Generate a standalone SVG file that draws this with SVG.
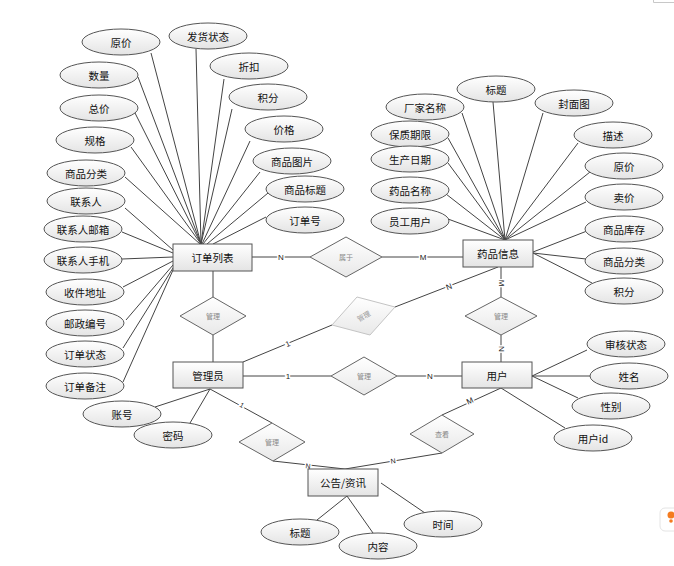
<svg xmlns="http://www.w3.org/2000/svg" width="674" height="566" viewBox="0 0 674 566">
<defs>
<linearGradient id="g" x1="0" y1="0" x2="0" y2="1">
<stop offset="0" stop-color="#ffffff"/>
<stop offset="1" stop-color="#e4e4e4"/>
</linearGradient>
<linearGradient id="gd" x1="0" y1="0" x2="0" y2="1">
<stop offset="0" stop-color="#ffffff"/>
<stop offset="1" stop-color="#e8e8e8"/>
</linearGradient>
</defs>
<style>
text{font-family:"Noto Sans CJK SC","Liberation Sans",sans-serif;text-anchor:middle;dominant-baseline:central}
.at ellipse{fill:url(#g);stroke:#555;stroke-width:1}
.at text{font-size:10.5px;fill:#111}
.en rect{fill:url(#g);stroke:#555;stroke-width:1}
.en text{font-size:10.5px;fill:#111}
.rl polygon{fill:url(#gd);stroke:#666;stroke-width:1}
.rl text{font-size:7px;fill:#888}
.fd polygon{fill:url(#gd);stroke:#c4c4c4;stroke-width:1}
.fd text{font-size:7px;fill:#999}
#connectors line{stroke:#444;stroke-width:1}
.cd{font-family:"Liberation Sans",sans-serif;font-size:8px;fill:#222;stroke:#fff;stroke-width:3px;paint-order:stroke}
</style>
<rect width="674" height="566" fill="#fff"/>
<path d="M653.5 0V2.5H674" fill="none" stroke="#c8c8c8" stroke-width="1"/>
<g id="connectors">
<line x1="151" y1="53" x2="201" y2="244"/>
<line x1="196" y1="49" x2="201" y2="244"/>
<line x1="138" y1="77" x2="201" y2="244"/>
<line x1="224" y1="79" x2="201" y2="244"/>
<line x1="135" y1="113" x2="201" y2="244"/>
<line x1="232" y1="109" x2="201" y2="244"/>
<line x1="131" y1="147" x2="201" y2="244"/>
<line x1="250" y1="141" x2="202" y2="244"/>
<line x1="125" y1="177" x2="200" y2="244"/>
<line x1="260" y1="172" x2="203" y2="244"/>
<line x1="125" y1="208" x2="173" y2="250"/>
<line x1="268" y1="193" x2="207" y2="244"/>
<line x1="266" y1="217" x2="213" y2="244"/>
<line x1="122" y1="232" x2="173" y2="253"/>
<line x1="122" y1="259" x2="173" y2="257"/>
<line x1="123" y1="287" x2="173" y2="261"/>
<line x1="126" y1="320" x2="173" y2="265"/>
<line x1="123" y1="348" x2="173" y2="268"/>
<line x1="123" y1="382" x2="173" y2="270"/>
<line x1="493" y1="102" x2="505" y2="240"/>
<line x1="462" y1="113" x2="505" y2="240"/>
<line x1="543" y1="113" x2="505" y2="240"/>
<line x1="448" y1="138" x2="505" y2="240"/>
<line x1="578" y1="143" x2="505" y2="240"/>
<line x1="448" y1="163" x2="505" y2="240"/>
<line x1="590" y1="172" x2="505" y2="240"/>
<line x1="446" y1="194" x2="505" y2="240"/>
<line x1="586" y1="202" x2="505" y2="240"/>
<line x1="448" y1="219" x2="505" y2="240"/>
<line x1="587" y1="231" x2="533" y2="252"/>
<line x1="533" y1="253" x2="586" y2="259"/>
<line x1="533" y1="253" x2="592" y2="283"/>
<line x1="252" y1="257" x2="310" y2="257"/>
<line x1="382" y1="257" x2="463" y2="257"/>
<line x1="213" y1="271" x2="213" y2="297"/>
<line x1="213" y1="335" x2="213" y2="362"/>
<line x1="243" y1="362" x2="332" y2="325"/>
<line x1="395" y1="307" x2="498" y2="267"/>
<line x1="501" y1="267" x2="501" y2="297"/>
<line x1="501" y1="335" x2="501" y2="362"/>
<line x1="243" y1="376" x2="331" y2="376"/>
<line x1="397" y1="376" x2="462" y2="376"/>
<line x1="532" y1="376" x2="587" y2="350"/>
<line x1="532" y1="376" x2="590" y2="376"/>
<line x1="532" y1="376" x2="578" y2="398"/>
<line x1="501" y1="388" x2="565" y2="428"/>
<line x1="501" y1="388" x2="442" y2="415"/>
<line x1="442" y1="453" x2="345" y2="469"/>
<line x1="210" y1="389" x2="272" y2="423"/>
<line x1="273" y1="461" x2="345" y2="469"/>
<line x1="210" y1="389" x2="155" y2="407"/>
<line x1="210" y1="389" x2="190" y2="423"/>
<line x1="347" y1="496" x2="317" y2="520"/>
<line x1="347" y1="496" x2="373" y2="533"/>
<line x1="381" y1="483" x2="425" y2="513"/>
<text class="cd" x="281" y="257">N</text>
<text class="cd" x="423" y="257">M</text>
<text class="cd" x="288" y="344" transform="rotate(-22 288 344)">1</text>
<text class="cd" x="449" y="287" transform="rotate(-21 449 287)">N</text>
<text class="cd" x="501" y="283" transform="rotate(90 501 283)">M</text>
<text class="cd" x="501" y="349" transform="rotate(90 501 349)">N</text>
<text class="cd" x="288" y="376">1</text>
<text class="cd" x="430" y="376">N</text>
<text class="cd" x="470" y="401" transform="rotate(-25 470 401)">M</text>
<text class="cd" x="393" y="461" transform="rotate(-9 393 461)" style="font-size:7px">N</text>
<text class="cd" x="242" y="405" transform="rotate(29 242 405)" style="font-size:7px">1</text>
<text class="cd" x="308" y="466" transform="rotate(6 308 466)" style="font-size:7px">N</text>
</g>
<g id="order" class="en"><rect x="173" y="244" width="79" height="27"/><text x="212.5" y="257.5">订单列表</text></g>
<g id="drug" class="en"><rect x="463" y="240" width="70" height="27"/><text x="498" y="253.5">药品信息</text></g>
<g id="admin" class="en"><rect x="173" y="362" width="70" height="26"/><text x="208" y="375">管理员</text></g>
<g id="user" class="en"><rect x="462" y="362" width="70" height="26"/><text x="497" y="375">用户</text></g>
<g id="notice" class="en"><rect x="308" y="469" width="70" height="27"/><text x="343" y="482.5">公告/资讯</text></g>
<g id="r-belong" class="rl"><polygon points="310,257 346,237 382,257 346,277"/><text x="346" y="257">属于</text></g>
<g id="r-manage1" class="rl"><polygon points="180,316 213,297 246,316 213,335"/><text x="213" y="316">管理</text></g>
<g id="r-manage2" class="fd"><polygon points="332,325 357,297 395,307 370,335"/><text x="363.5" y="316" transform="rotate(-30 363.5 316)">管理</text></g>
<g id="r-manage3" class="rl"><polygon points="465,316 501,297 537,316 501,335"/><text x="501" y="316">管理</text></g>
<g id="r-manage4" class="rl"><polygon points="331,376 364,357 397,376 364,395"/><text x="364" y="376">管理</text></g>
<g id="r-view" class="rl"><polygon points="410,434 442,415 474,434 442,453"/><text x="442" y="434">查看</text></g>
<g id="r-manage5" class="rl"><polygon points="239,442 272,423 305,442 273,461"/><text x="272" y="442">管理</text></g>
<g class="at">
<g id="a-o1"><ellipse cx="121" cy="42" rx="39" ry="13"/><text x="121" y="42">原价</text></g>
<g id="a-o2"><ellipse cx="208" cy="36" rx="39" ry="13"/><text x="208" y="36">发货状态</text></g>
<g id="a-o3"><ellipse cx="99" cy="75" rx="39" ry="13"/><text x="99" y="75">数量</text></g>
<g id="a-o4"><ellipse cx="249" cy="66" rx="39" ry="13"/><text x="249" y="66">折扣</text></g>
<g id="a-o5"><ellipse cx="99" cy="108" rx="39" ry="13"/><text x="99" y="108">总价</text></g>
<g id="a-o6"><ellipse cx="268" cy="97" rx="39" ry="13"/><text x="268" y="97">积分</text></g>
<g id="a-o7"><ellipse cx="95" cy="140" rx="39" ry="13"/><text x="95" y="140">规格</text></g>
<g id="a-o8"><ellipse cx="284" cy="129" rx="39" ry="13"/><text x="284" y="129">价格</text></g>
<g id="a-o9"><ellipse cx="86" cy="173" rx="39" ry="13"/><text x="86" y="173">商品分类</text></g>
<g id="a-o10"><ellipse cx="292" cy="161" rx="39" ry="13"/><text x="292" y="161">商品图片</text></g>
<g id="a-o11"><ellipse cx="86" cy="201" rx="39" ry="13"/><text x="86" y="201">联系人</text></g>
<g id="a-o12"><ellipse cx="305" cy="189" rx="39" ry="13"/><text x="305" y="189">商品标题</text></g>
<g id="a-o13"><ellipse cx="305" cy="220" rx="39" ry="13"/><text x="305" y="220">订单号</text></g>
<g id="a-o14"><ellipse cx="83" cy="229" rx="39" ry="13"/><text x="83" y="229">联系人邮箱</text></g>
<g id="a-o15"><ellipse cx="83" cy="260" rx="39" ry="13"/><text x="83" y="260">联系人手机</text></g>
<g id="a-o16"><ellipse cx="85" cy="292" rx="39" ry="13"/><text x="85" y="292">收件地址</text></g>
<g id="a-o17"><ellipse cx="85" cy="323" rx="39" ry="13"/><text x="85" y="323">邮政编号</text></g>
<g id="a-o18"><ellipse cx="85" cy="354" rx="39" ry="13"/><text x="85" y="354">订单状态</text></g>
<g id="a-o19"><ellipse cx="85" cy="386" rx="39" ry="13"/><text x="85" y="386">订单备注</text></g>
<g id="a-d1"><ellipse cx="496" cy="89" rx="39" ry="13"/><text x="496" y="89">标题</text></g>
<g id="a-d2"><ellipse cx="425" cy="107" rx="39" ry="13"/><text x="425" y="107">厂家名称</text></g>
<g id="a-d3"><ellipse cx="574" cy="103" rx="39" ry="13"/><text x="574" y="103">封面图</text></g>
<g id="a-d4"><ellipse cx="410" cy="134" rx="39" ry="13"/><text x="410" y="134">保质期限</text></g>
<g id="a-d5"><ellipse cx="613" cy="135" rx="39" ry="13"/><text x="613" y="135">描述</text></g>
<g id="a-d6"><ellipse cx="410" cy="159" rx="39" ry="13"/><text x="410" y="159">生产日期</text></g>
<g id="a-d7"><ellipse cx="624" cy="166" rx="39" ry="13"/><text x="624" y="166">原价</text></g>
<g id="a-d8"><ellipse cx="410" cy="190" rx="39" ry="13"/><text x="410" y="190">药品名称</text></g>
<g id="a-d9"><ellipse cx="624" cy="197" rx="39" ry="13"/><text x="624" y="197">卖价</text></g>
<g id="a-d10"><ellipse cx="410" cy="221" rx="39" ry="13"/><text x="410" y="221">员工用户</text></g>
<g id="a-d11"><ellipse cx="624" cy="229" rx="39" ry="13"/><text x="624" y="229">商品库存</text></g>
<g id="a-d12"><ellipse cx="624" cy="261" rx="39" ry="13"/><text x="624" y="261">商品分类</text></g>
<g id="a-d13"><ellipse cx="624" cy="291" rx="39" ry="13"/><text x="624" y="291">积分</text></g>
<g id="a-u1"><ellipse cx="626" cy="344" rx="39" ry="13"/><text x="626" y="344">审核状态</text></g>
<g id="a-u2"><ellipse cx="629" cy="376" rx="39" ry="13"/><text x="629" y="376">姓名</text></g>
<g id="a-u3"><ellipse cx="611" cy="406" rx="39" ry="13"/><text x="611" y="406">性别</text></g>
<g id="a-u4"><ellipse cx="593" cy="438" rx="39" ry="13"/><text x="593" y="438">用户id</text></g>
<g id="a-m1"><ellipse cx="122" cy="414" rx="39" ry="13"/><text x="122" y="414">账号</text></g>
<g id="a-m2"><ellipse cx="173" cy="435" rx="39" ry="13"/><text x="173" y="435">密码</text></g>
<g id="a-n1"><ellipse cx="300" cy="532" rx="39" ry="13"/><text x="300" y="532">标题</text></g>
<g id="a-n2"><ellipse cx="378" cy="546" rx="39" ry="13"/><text x="378" y="546">内容</text></g>
<g id="a-n3"><ellipse cx="443" cy="524" rx="39" ry="13"/><text x="443" y="524">时间</text></g>
</g>
<rect x="660" y="508" width="22" height="23" rx="5" fill="#fff" stroke="#e4e4e4"/>
<circle cx="671" cy="515" r="3.5" fill="#f47b20"/>
<circle cx="671" cy="521" r="1.8" fill="#f47b20"/>
</svg>
